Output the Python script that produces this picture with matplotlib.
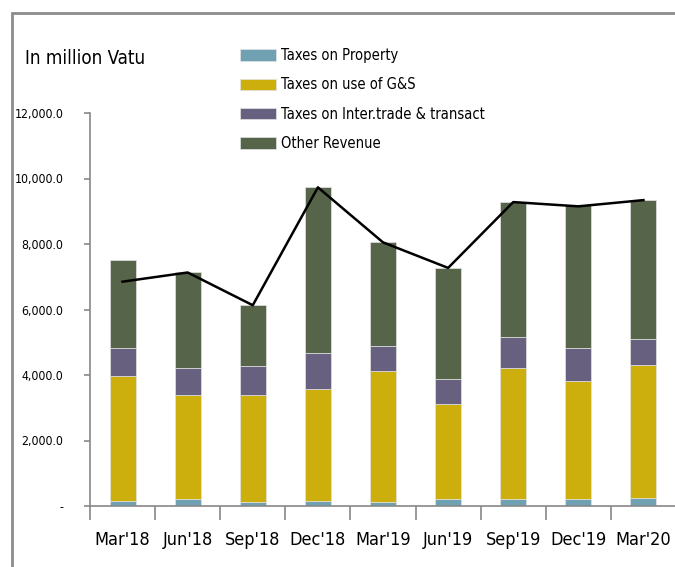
import numpy as np
import matplotlib
matplotlib.use('Agg')
import matplotlib.pyplot as plt
from matplotlib.patches import Rectangle
from matplotlib.ticker import FuncFormatter

plt.rcParams['font.family'] = ['DejaVu Sans']
plt.rcParams['font.stretch'] = 'condensed'

#quarterly data, million Vatu
quarters = ["Mar'18", "Jun'18", "Sep'18", "Dec'18", "Mar'19",
            "Jun'19", "Sep'19", "Dec'19", "Mar'20"]
property_tax = [150, 200, 110, 150, 110, 200, 200, 200, 240]
gs_tax = [3820, 3180, 3280, 3430, 4010, 2920, 4000, 3610, 4080]
trade_tax = [850, 820, 890, 1100, 780, 760, 970, 1010, 780]
other_rev = [2680, 2950, 1870, 5070, 3160, 3390, 4120, 4360, 4240]
total_line = [6850, 7130, 6130, 9730, 8050, 7270, 9280, 9150, 9340]

series_names = ['Taxes on Property', 'Taxes on use of G&S',
                'Taxes on Inter.trade & transact', 'Other Revenue']
colors = ['#6FA1B3', '#CCAE0C', '#67617F', '#56654A']

fig = plt.figure(figsize=(6.75, 5.67), dpi=100)
ax = fig.add_axes([90/675, 1-506/567, 586/675, 393/567])

x = np.arange(len(quarters))
bottom = np.zeros(len(quarters))
for vals, col, name in zip([property_tax, gs_tax, trade_tax, other_rev], colors, series_names):
    ax.bar(x, vals, 0.4, bottom=bottom, color=col, label=name, zorder=2,
           edgecolor='#E3E3E3', linewidth=0.5)
    bottom += np.array(vals)

ax.plot(x, total_line, color='black', lw=1.8, zorder=3)

ax.set_xlim(-0.5, len(quarters)-0.5)
ax.set_ylim(0, 12000)
ax.set_yticks(np.arange(0, 12001, 2000))
ax.yaxis.set_major_formatter(FuncFormatter(lambda v, p: '-' if v == 0 else '{:,.1f}'.format(v)))
ax.set_xticks(x)
ax.set_xticklabels(quarters, fontsize=13)
ax.set_xticks(np.arange(-0.5, len(quarters), 1), minor=True)
ax.tick_params(axis='x', which='major', length=0, pad=18)
ax.tick_params(axis='x', which='minor', length=10, width=1.2, color='#888888', direction='out')
ax.tick_params(axis='y', length=4, width=1.2, color='#888888', labelsize=8.8, pad=15)

for s in ['top', 'right']:
    ax.spines[s].set_visible(False)
for s in ['left', 'bottom']:
    ax.spines[s].set_color('#888888')
    ax.spines[s].set_linewidth(1.2)

fig.text(25/675, 1-58/567, 'In million Vatu', fontsize=13.5, va='center', ha='left')

leg = fig.legend(loc='upper left', bbox_to_anchor=(227/675, 1-35/567), frameon=False,
                 fontsize=10.5, handlelength=2.47, handleheight=0.82,
                 labelspacing=0.98, handletextpad=0.35)

#outer frame, cut off on the right and bottom like the source
fig.patches.append(Rectangle((12/675, -0.1), 1.2, 1-13/567+0.1, transform=fig.transFigure,
                             fill=False, edgecolor='#8C8C8C', lw=2))

plt.savefig('out.png', dpi=100)
